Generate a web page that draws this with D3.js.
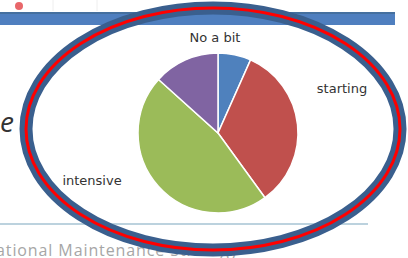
<!DOCTYPE html>
<html>
<head>
<meta charset="utf-8">
<script src="https://cdn.jsdelivr.net/npm/d3@7/dist/d3.min.js"></script>
<style>
  html, body { margin: 0; padding: 0; background: #fff; overflow: hidden; }
  svg { display: block; }
</style>
</head>
<body>
<div id="chart"></div>
<script>
  'use strict';

  // data
  var categories = ["No a bit", "starting", "intensive", ""];
  var values = [1, 5, 7, 2];
  var colors = ["#4f81bd", "#c0504d", "#9bbb59", "#8064a2"];

  var w = 408;
  var h = 258;

  var pieCx = 218;
  var pieCy = 133;
  var pieR = 80;

  // where excel dropped the data labels, relative to the pie centre
  var labelOffsets = [[-3, -91], [124, -40], [-126, 52], [0, 0]];

  var svg = d3.select("#chart").append("svg")
    .attr("width", w)
    .attr("height", h);

  // --- slide background bits ---
  var slide = svg.append("g").attr("class", "slide");

  [53, 97].forEach(function (x) {
    slide.append("line")
      .attr("x1", x).attr("x2", x)
      .attr("y1", 0).attr("y2", 11)
      .attr("stroke", "#eeeeee")
      .attr("stroke-width", 1);
  });

  slide.append("circle")
    .attr("cx", 19)
    .attr("cy", 6)
    .attr("r", 4)
    .attr("fill", "#e8676a");

  slide.append("rect")
    .attr("x", 0)
    .attr("y", 12)
    .attr("width", 395)
    .attr("height", 13)
    .attr("fill", "#4f7fbf");
  slide.append("rect")
    .attr("x", 0)
    .attr("y", 12)
    .attr("width", 395)
    .attr("height", 2)
    .attr("fill", "#45709f");

  slide.append("text")
    .attr("x", 14)
    .attr("y", 132)
    .attr("text-anchor", "end")
    .attr("font-family", "'Open Sans', sans-serif")
    .attr("font-style", "italic")
    .attr("font-size", 28)
    .attr("fill", "#333333")
    .text("e");

  slide.append("line")
    .attr("x1", 0).attr("x2", 368)
    .attr("y1", 224).attr("y2", 224)
    .attr("stroke", "#bcd2de")
    .attr("stroke-width", 2);

  slide.append("text")
    .attr("x", -4)
    .attr("y", 256)
    .attr("font-family", "'Open Sans', sans-serif")
    .attr("font-size", 16)
    .attr("letter-spacing", 0.9)
    .attr("fill", "#a6a6a6")
    .text("ational Maintenance Strategy");

  // --- the pie ---
  var pie = d3.pie()
    .sort(null)
    .value(function (d) { return d; });

  var arc = d3.arc()
    .innerRadius(0)
    .outerRadius(pieR);

  var pieGroup = svg.append("g")
    .attr("class", "pie")
    .attr("transform", "translate(" + pieCx + "," + pieCy + ")");

  pieGroup.selectAll("path.slice")
    .data(pie(values))
    .enter()
    .append("path")
    .attr("class", "slice")
    .attr("d", arc)
    .attr("fill", function (d, i) { return colors[i]; })
    .attr("stroke", "#ffffff")
    .attr("stroke-width", 1.5);

  pieGroup.selectAll("text.label")
    .data(categories)
    .enter()
    .append("text")
    .attr("class", "label")
    .attr("x", function (d, i) { return labelOffsets[i][0]; })
    .attr("y", function (d, i) { return labelOffsets[i][1]; })
    .attr("text-anchor", "middle")
    .attr("font-family", "'DejaVu Sans', sans-serif")
    .attr("font-size", 13)
    .attr("fill", "#333333")
    .text(function (d) { return d; });

  // --- the hand drawn ring round it ---
  var ringCx = 213;
  var ringCy = 129;
  var ringRx = 187;
  var ringRy = 121;

  svg.append("ellipse")
    .attr("cx", ringCx)
    .attr("cy", ringCy)
    .attr("rx", ringRx)
    .attr("ry", ringRy)
    .attr("fill", "none")
    .attr("stroke", "#3a5f8e")
    .attr("stroke-width", 13);

  svg.append("ellipse")
    .attr("cx", ringCx)
    .attr("cy", ringCy)
    .attr("rx", ringRx)
    .attr("ry", ringRy)
    .attr("fill", "none")
    .attr("stroke", "#ff0000")
    .attr("stroke-width", 3);
</script>
</body>
</html>
